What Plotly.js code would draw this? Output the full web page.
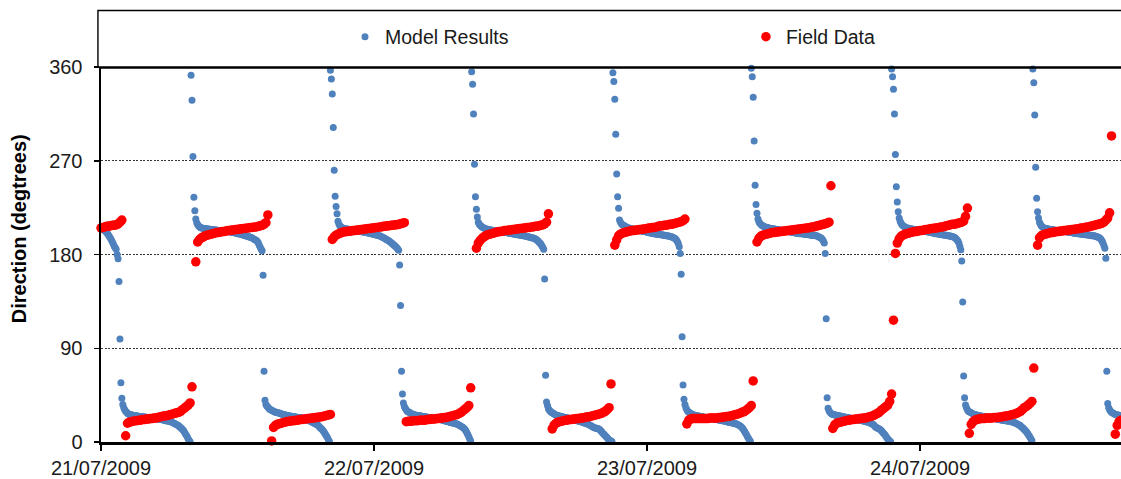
<!DOCTYPE html>
<html>
<head>
<meta charset="utf-8">
<script src="https://cdn.plot.ly/plotly-3.0.1.min.js"></script>
<style>html,body{margin:0;padding:0;background:#fff;}#chart{width:1121px;height:479px;}</style>
</head>
<body>
<div id="chart"></div>
<script>
// ---------------- DATA ----------------
const seriesNames = ['Model Results', 'Field Data'];
const xTickLabels = ['21/07/2009', '22/07/2009', '23/07/2009', '24/07/2009'];
const yTickValues = [0, 90, 180, 270, 360];

// Model results: runs sampled every 5 minutes from each run start
const modelStepMinutes = 5;
const modelRunStarts = [
  '2009-07-21 00:00', '2009-07-21 01:35', '2009-07-21 07:55', '2009-07-21 14:15',
  '2009-07-21 20:10', '2009-07-22 02:10', '2009-07-22 08:35', '2009-07-22 14:55',
  '2009-07-22 21:00', '2009-07-23 02:55', '2009-07-23 09:10', '2009-07-23 15:40',
  '2009-07-23 21:30', '2009-07-24 03:40', '2009-07-24 09:55', '2009-07-24 16:20'
];
const modelRuns = [
  [205, 204.5, 204, 203.5, 203, 202, 201, 200, 198.5, 197, 195.5, 194, 192, 190, 188, 186.5, 185, 180, 176],
  [154, 99, 57, 42, 36, 33, 31, 29.5, 28.5, 27.5, 27, 26.5, 26.5, 26, 26, 25.5, 25.5, 25.5, 25, 25,
   25, 24.5, 24.5, 24.5, 24.5, 24, 24, 24, 24, 23.5, 23.5, 23.5, 23.5, 23, 23, 23, 23, 22.5, 22.5, 22.5,
   22.5, 22, 22, 22, 21.5, 21.5, 21.5, 21, 21, 20.5, 20.5, 20.5, 20, 20, 19.5, 19.5, 19, 18.5, 18, 17.5,
   17, 16.5, 16, 15.5, 14.5, 14, 13, 12, 11, 9.5, 8, 6.5, 5, 3, 1.5, 0.3],
  [352, 328, 274, 235, 222, 214, 210.5, 208.5, 207.5, 206.5, 206, 205.5, 205.5, 205, 205, 205, 204.5, 204.5, 204.5, 204.5,
   204, 204, 204, 204, 203.5, 203.5, 203.5, 203.5, 203, 203, 203, 203, 203, 202.5, 202.5, 202.5, 202.5, 202, 202, 202,
   202, 201.5, 201.5, 201.5, 201, 201, 201, 200.5, 200.5, 200, 200, 200, 199.5, 199.5, 199, 199, 198.5, 198, 198, 197.5,
   197.5, 197, 196.5, 196.5, 196, 195.5, 195, 194.5, 194, 193.5, 192.5, 191, 189, 187, 185, 183.5],
  [160, 68, 40, 36, 34.5, 33.5, 32.5, 31.5, 31, 30.5, 30, 29.5, 29, 28.5, 28.5, 28, 28, 27.5, 27.5, 27,
   27, 26.5, 26.5, 26, 26, 25.5, 25.5, 25, 25, 25, 24.5, 24.5, 24.5, 24, 24, 24, 23.5, 23.5, 23.5, 23.5,
   23, 23, 22.5, 22.5, 22, 22, 21.5, 21, 21, 20.5, 20, 19.5, 19, 18.5, 18, 17.5, 17, 16.5, 16, 15,
   14, 13, 12.5, 11, 10, 8.5, 7, 5.5, 4, 2, 0.5],
  [357, 348.5, 334, 302, 261, 236, 226, 219, 212, 209, 207.5, 206.5, 206, 205.5, 205, 205, 204.5, 204.5, 204.5, 204,
   204, 204, 203.5, 203.5, 203.5, 203, 203, 203, 202.5, 202.5, 202.5, 202, 202, 202, 201.5, 201.5, 201.5, 201, 201, 201,
   200.5, 200.5, 200.5, 200, 200, 199.5, 199.5, 199, 199, 198.5, 198.5, 198, 198, 197.5, 197, 196.5, 196, 195.5, 195, 194.5,
   194, 193.5, 193, 192, 191.5, 190.5, 190, 189, 188.5, 187.5, 186.5, 185.5],
  [184, 170, 131, 68, 46, 37.4, 34, 32.5, 31, 29.5, 29, 28.5, 28, 27.5, 27, 26.5, 26.5, 26, 26, 25.5,
   25.5, 25.5, 25, 25, 25, 24.5, 24.5, 24.5, 24, 24, 24, 23.5, 23.5, 23.5, 23, 23, 23, 22.5, 22.5, 22.5,
   22, 22, 22, 21.5, 21.5, 21.5, 21, 21, 20.5, 20.5, 20, 20, 19.5, 19.5, 19, 18.5, 18.5, 18.5, 18, 18,
   17.5, 17.5, 17, 16.5, 16, 15.5, 15, 14.5, 14, 13, 12, 10.5, 9, 7, 5, 3, 1],
  [355.5, 343.4, 315, 266.6, 235.5, 223.4, 216, 211, 209, 208, 207, 206.5, 206, 205.5, 205, 204.5, 204.5, 204, 204, 203.5,
   203.5, 203.5, 203, 203, 203, 202.5, 202.5, 202.5, 202.5, 202, 202, 202, 202, 201.5, 201.5, 201.5, 201, 201, 201, 200.5,
   200.5, 200.5, 200, 200, 200, 199.5, 199.5, 199.5, 199, 199, 199, 198.5, 198.5, 198.5, 198, 198, 198, 197.5, 197.5, 197,
   197, 196.5, 196.5, 196, 196, 195.5, 195.5, 195, 194.5, 194, 193, 192, 191, 190, 188.5, 187],
  [185, 156.5, 64, 38.4, 35, 32, 30.5, 29.5, 28.5, 28, 27.5, 27, 26.5, 26, 25.5, 25.5, 25, 25, 24.5, 24.5,
   24, 24, 23.5, 23.5, 23, 23, 23, 22.5, 22.5, 22, 22, 21.5, 21.5, 21, 21, 20.5, 20.5, 20, 20, 19.5,
   19.5, 19, 18.5, 18.5, 18, 17.5, 17.5, 17, 16.5, 16, 15.5, 15, 14.5, 14, 13.5, 13.5, 13, 13, 12.5, 12,
   11, 10, 9, 8, 7, 6, 5, 4, 3, 2, 1.5, 1, 0.5],
  [354.5, 346, 329, 295.4, 257.3, 235.5, 224.3, 213, 211, 209.5, 208.5, 208, 207.5, 207, 206.5, 206, 205.5, 205.5, 205, 205,
   204.5, 204.5, 204, 204, 204, 203.5, 203.5, 203, 203, 203, 202.5, 202.5, 202, 202, 202, 201.5, 201.5, 201, 201, 201,
   200.5, 200.5, 200.5, 200, 200, 200, 199.5, 199.5, 199.5, 199.5, 199, 199, 199, 198.5, 198.5, 198.5, 198, 198, 198, 197.5,
   197.5, 197, 197, 196.5, 196, 195.5, 195, 194, 192.5, 190.5, 187.5],
  [181, 161, 101, 54.7, 41, 36, 33, 31, 29.5, 28.5, 28, 27.5, 27, 26.5, 26, 26, 25.5, 25.5, 25, 25,
   25, 24.5, 24.5, 24, 24, 24, 23.5, 23.5, 23.5, 23, 23, 23, 22.5, 22.5, 22.5, 22, 22, 22, 21.5, 21.5,
   21.5, 21, 21, 21, 20.5, 20.5, 20.5, 20, 20, 19.5, 19.5, 19, 19, 18.5, 18.5, 18.5, 18, 18, 17.5, 17.5,
   17, 16.5, 16, 15.5, 15, 14, 13, 11.5, 10, 8.5, 7, 5, 3.5, 2, 0.8],
  [358.7, 350.7, 331, 289, 246.4, 228, 219.5, 214, 211.5, 210, 209, 208, 207.5, 207, 206.5, 206.5, 206, 206, 205.5, 205.5,
   205, 205, 205, 204.5, 204.5, 204.5, 204, 204, 204, 203.5, 203.5, 203.5, 203, 203, 203, 202.5, 202.5, 202.5, 202, 202,
   202, 201.5, 201.5, 201.5, 201, 201, 201, 200.5, 200.5, 200.5, 200.5, 200, 200, 200, 200, 200, 199.5, 199.5, 199.5, 199.5,
   199, 199, 199, 198.5, 198.5, 198.5, 198.5, 198.5, 198, 198, 197.5, 197, 196.5, 196, 195.5, 194.5, 193, 191],
  [181, 118.4, 42.5, 32.4, 30, 28.5, 27.5, 27, 26.5, 26.5, 26, 26, 25.5, 25.5, 25.5, 25, 25, 24.5, 24.5, 24,
   24, 24, 23.5, 23.5, 23.5, 23, 23, 22.5, 22.5, 22.5, 22, 22, 22, 21.5, 21.5, 21.5, 21, 21, 21, 20.5,
   20.5, 20, 20, 19.5, 19.5, 19, 19, 18.5, 18, 17.5, 17, 16.5, 15.5, 14.5, 14, 13.5, 13, 12.5, 12, 11,
   10, 9, 8, 7, 5.5, 4, 3, 2, 1, 0.3],
  [358, 350.7, 338.6, 315, 276, 245, 230.4, 221, 215, 212, 210, 208.5, 207.5, 207, 206.5, 206, 205.5, 205.5, 205, 205,
   204.5, 204.5, 204.5, 204, 204, 204, 203.5, 203.5, 203.5, 203, 203, 203, 202.5, 202.5, 202.5, 202, 202, 202, 201.5, 201.5,
   201.5, 201, 201, 201, 200.5, 200.5, 200.5, 200, 200, 200, 199.5, 199.5, 199.5, 199, 199, 199, 198.5, 198.5, 198.5, 198,
   198, 198, 197.5, 197.5, 197, 197, 196.5, 196, 195, 194, 193, 191, 188, 184.5],
  [173.8, 134.4, 63.4, 42.5, 35.5, 33, 31, 29.5, 29, 28.5, 28, 27.5, 27, 26.5, 26.5, 26, 26, 25.5, 25.5, 25,
   25, 25, 24.5, 24.5, 24, 24, 24, 23.5, 23.5, 23.5, 23, 23, 23, 22.5, 22.5, 22.5, 22, 22, 22, 21.5,
   21.5, 21.5, 21, 21, 21, 21, 20.5, 20.5, 20.5, 20, 20, 20, 19.5, 19.5, 19, 19, 18.5, 18, 17.5, 17,
   16.5, 16, 15.5, 14.5, 14, 13, 12, 11, 10, 9, 7.5, 6, 4.5, 3, 1.5],
  [358, 345, 314, 263.7, 234, 221, 215, 211, 209, 207.5, 206.5, 206, 205.5, 205, 205, 204.5, 204.5, 204.5, 204, 204,
   204, 203.5, 203.5, 203.5, 203, 203, 203, 203, 202.5, 202.5, 202.5, 202.5, 202, 202, 202, 202, 201.5, 201.5, 201.5, 201,
   201, 201, 201, 200.5, 200.5, 200.5, 200.5, 200, 200, 200, 200, 199.5, 199.5, 199.5, 199.5, 199, 199, 199, 199, 198.5,
   198.5, 198.5, 198, 198, 198, 198, 197.5, 197, 197, 196.5, 196, 195.5, 194.5, 193, 191, 188.5, 186],
  [176.4, 68, 37, 33, 31, 29.5, 28.5, 28, 27.5, 27, 26.5, 26.5, 26, 26, 25.5, 25.5, 25.5, 25]
];

// Field data: runs sampled every 10 minutes from each run start
const fieldStepMinutes = 10;
const fieldRunStarts = [
  '2009-07-21 00:00', '2009-07-21 02:10', '2009-07-21 08:20', '2009-07-21 15:00',
  '2009-07-21 20:20', '2009-07-22 02:50', '2009-07-22 09:00', '2009-07-22 15:40',
  '2009-07-22 21:10', '2009-07-23 03:30', '2009-07-23 09:40', '2009-07-23 16:20',
  '2009-07-23 21:50', '2009-07-24 04:20', '2009-07-24 10:20', '2009-07-24 17:10'
];
const fieldRuns = [
  [205.5, 206, 206.5, 207, 207, 207.5, 208, 208, 208.5, 209.5, 211, 213],
  [6, 18, 19, 19.5, 20, 20.5, 20.5, 21, 21, 21.5, 21.5, 22, 22, 22.5, 22.5, 23, 23, 23.5, 24, 24.5,
   25, 25, 25.5, 26, 26.5, 27, 27.5, 28, 28.5, 29.5, 31, 32.5, 34, 35.5, 37.5, 53],
  [173, 192, 194.5, 196, 197, 198, 198.5, 199, 199.5, 200, 200.5, 201, 201, 201.5, 202, 202, 202.5, 203, 203, 203.5,
   203.5, 204, 204, 204.5, 204.5, 205, 205, 205.5, 205.5, 206, 206, 206.5, 206.5, 207, 207.5, 208, 209, 210.5, 218],
  [1, 14, 16, 17, 17.5, 18, 18.5, 19, 19.5, 20, 20, 20.5, 20.5, 21, 21, 21.5, 21.5, 22, 22, 22.5,
   22.5, 23, 23, 23.5, 23.5, 24, 24, 24.5, 25, 25.5, 26, 26.5],
  [194.5, 197, 198.5, 199.5, 200.3, 201, 201.5, 202, 202, 202.5, 202.5, 203, 203, 203.5, 203.5, 204, 204, 204.5, 204.5, 205,
   205, 205.5, 205.5, 206, 206, 206.5, 206.5, 207, 207, 207.5, 207.5, 208, 208, 208.5, 208.5, 209, 209.5, 210, 210.5],
  [19.5, 20, 20, 20, 20.5, 20.5, 20.5, 21, 21, 21, 21, 21.5, 21.5, 22, 22, 22, 22.5, 22.5, 23, 23,
   23.5, 23.5, 24, 24.5, 25, 25.5, 26, 26.5, 27.5, 28.5, 30, 31.5, 33, 35, 52],
  [186, 191, 193.5, 195.5, 197, 198, 199, 199.5, 200, 200.5, 201, 201.5, 202, 202, 202.5, 203, 203, 203.5, 203.5, 204,
   204, 204.5, 204.5, 205, 205, 205.5, 205.5, 206, 206, 206.5, 206.5, 207, 207, 207.5, 208, 208.5, 209.5, 211, 219],
  [12.5, 16.3, 18, 19, 19.5, 20, 20.5, 21, 21, 21.5, 21.5, 22, 22, 22.5, 22.5, 23, 23, 23.5, 24, 24,
   24.5, 25, 25.5, 26, 26.5, 27, 27.5, 28.5, 29.5, 31, 33, 55.7],
  [189, 194, 198, 199.5, 200.5, 201, 201.5, 202, 202.5, 203, 203, 203.5, 203.5, 204, 204, 204.5, 204.5, 205, 205.5, 205.5,
   206, 206, 206.5, 207, 207.5, 207.5, 208, 208, 208.5, 209, 209, 209.5, 210, 210.5, 211, 211.5, 212.5, 214],
  [17.3, 21, 22, 22.5, 22.5, 22.5, 22.5, 22.5, 22.5, 22.5, 22.5, 22.5, 23, 23, 23, 23, 23, 23.5, 23.5, 24,
   24, 24.5, 24.5, 25, 25.5, 26, 26.5, 27, 27.5, 28.5, 29, 30, 31.5, 33, 35, 58.6],
  [192, 195.5, 197.5, 198.5, 199, 199.5, 200, 200.5, 201, 201, 201.5, 201.5, 202, 202, 202.5, 202.5, 203, 203, 203.5, 203.5,
   204, 204, 204.5, 204.5, 205, 205, 205.5, 205.5, 206, 206.5, 206.5, 207, 207.5, 208, 208.5, 209, 209.5, 210, 211, 246],
  [13, 16.5, 18, 18.5, 19, 19.5, 20, 20.5, 21, 21, 21.5, 21.5, 22, 22, 22.5, 22.5, 23, 23, 23.5, 24,
   24.5, 25, 26, 27, 28, 29.5, 31, 32.5, 34, 35.5, 39, 46, 117],
  [181, 191, 195, 197.5, 198.5, 199.5, 200, 200.5, 201, 201.5, 202, 202, 202.5, 203, 203, 203.5, 204, 204, 204.5, 205,
   205, 205.5, 205.5, 206, 206.5, 206.5, 207, 207.5, 208, 208.5, 209, 209, 209.5, 210, 210.5, 211, 212, 216.5, 224.6],
  [8.3, 17, 19.5, 21, 21.5, 22, 22.5, 22.5, 22.5, 23, 23, 23, 23, 23.5, 23.5, 23.5, 24, 24, 24.5, 25,
   25, 25.5, 26, 26.5, 27, 27.5, 28.5, 29.5, 31, 33, 34, 35.5, 37, 39, 71],
  [189, 196, 198, 199, 199.5, 200, 200.5, 201, 201, 201.5, 202, 202, 202.5, 202.5, 203, 203, 203.5, 203.5, 204, 204,
   204.5, 204.5, 205, 205.5, 205.5, 206, 206.5, 206.5, 207, 207.5, 208, 208.5, 209, 209.5, 210, 211, 213, 215, 220, 293.8],
  [7.5, 16, 19.5, 21, 21.5]
];

// ---------------- BUILD ----------------
function expandRuns(starts, runs, stepMin) {
  const x = [], y = [];
  starts.forEach(function (s, i) {
    const t0 = Date.parse(s.replace(' ', 'T') + ':00Z');
    runs[i].forEach(function (v, j) {
      x.push(new Date(t0 + j * stepMin * 60000).toISOString().slice(0, 19).replace('T', ' '));
      y.push(v);
    });
  });
  return { x: x, y: y };
}
const model = expandRuns(modelRunStarts, modelRuns, modelStepMinutes);
const field = expandRuns(fieldRunStarts, fieldRuns, fieldStepMinutes);

const FONT = 'Liberation Sans, Arial, sans-serif';
const traces = [
  { type: 'scatter', mode: 'markers', name: seriesNames[0], x: model.x, y: model.y,
    marker: { color: '#4F81BD', size: 7 }, cliponaxis: false, legend: 'legend' },
  { type: 'scatter', mode: 'markers', name: seriesNames[1], x: field.x, y: field.y,
    marker: { color: '#FF0000', size: 9.5 }, cliponaxis: false, legend: 'legend2' }
];

const legendCommon = {
  orientation: 'h', xanchor: 'left', y: 1.08, yanchor: 'middle',
  bgcolor: 'rgba(0,0,0,0)', borderwidth: 0,
  font: { family: FONT, size: 19.5, color: '#1a1a1a' }
};

const layout = {
  width: 1121, height: 479,
  margin: { l: 101, r: 0, t: 67, b: 37, pad: 0 },
  paper_bgcolor: '#fff', plot_bgcolor: '#fff',
  font: { family: FONT, size: 20, color: '#1a1a1a' },
  showlegend: true,
  legend: Object.assign({}, legendCommon, { x: 0.2392 }),
  legend2: Object.assign({}, legendCommon, { x: 0.6323 }),
  xaxis: {
    type: 'date',
    range: ['2009-07-21 00:00', '2009-07-24 17:40'],
    tickvals: ['2009-07-21', '2009-07-22', '2009-07-23', '2009-07-24'],
    ticktext: xTickLabels,
    showgrid: false, zeroline: false,
    showline: true, linecolor: '#000', linewidth: 2.5,
    ticks: 'outside', ticklen: 6, tickwidth: 1.5, tickcolor: '#000',
    tickfont: { family: FONT, size: 20, color: '#1a1a1a' }
  },
  yaxis: {
    range: [0, 360], tickvals: yTickValues, ticktext: yTickValues.map(String),
    showgrid: true, gridcolor: '#333', gridwidth: 1, griddash: '2px,1.5px',
    zeroline: false, showline: true, linecolor: '#000', linewidth: 2.5,
    ticks: 'outside', ticklen: 5, tickwidth: 1.5, tickcolor: '#000',
    ticklabelstandoff: 7,
    tickfont: { family: FONT, size: 20, color: '#1a1a1a' }
  },
  shapes: [
    { type: 'rect', xref: 'paper', yref: 'paper', x0: -0.003, x1: 1.2, y0: 1.0, y1: 1.1507,
      line: { color: '#000', width: 1.4 }, fillcolor: 'rgba(0,0,0,0)', layer: 'above' },
    { type: 'line', xref: 'paper', yref: 'y', x0: -0.002, x1: 1.2, y0: 360, y1: 360,
      line: { color: '#000', width: 3.5 }, layer: 'above' }
  ],
  annotations: [
    { text: '<b>Direction (degtrees)</b>', xref: 'paper', yref: 'paper', x: -0.0804, y: 0.57,
      xanchor: 'center', yanchor: 'middle', textangle: -90, showarrow: false,
      font: { family: FONT, size: 20, color: '#000' } }
  ]
};

Plotly.newPlot('chart', traces, layout, { staticPlot: true, displayModeBar: false });
</script>
</body>
</html>
